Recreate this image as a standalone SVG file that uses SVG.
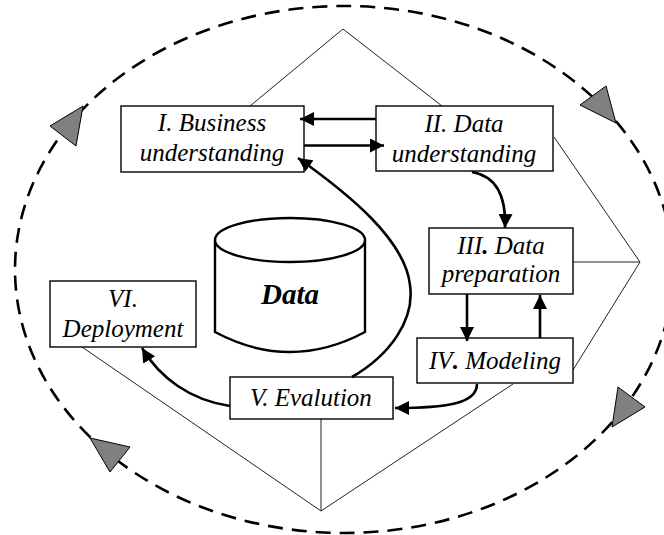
<svg xmlns="http://www.w3.org/2000/svg" width="664" height="535" viewBox="0 0 664 535">
<style>
.box{fill:#fff;stroke:#000;stroke-width:1.4}
.lbl{font-family:"Liberation Serif","Times New Roman",serif;font-style:italic;font-size:25px;fill:#000;text-anchor:middle}
.thin{fill:none;stroke:#222;stroke-width:1}
.arr{fill:none;stroke:#000;stroke-width:2.6;marker-end:url(#ah)}
.tri{fill:#808080;stroke:#000;stroke-width:1}
</style>
<defs>
<marker id="ah" markerUnits="userSpaceOnUse" markerWidth="15" markerHeight="14" refX="14" refY="7" orient="auto">
<path d="M0,0 L14,7 L0,14 z" fill="#000"/>
</marker>
</defs>
<rect width="664" height="535" fill="#fff"/>

<g id="cycle">
<ellipse cx="344" cy="269.5" rx="329" ry="263.5" fill="none" stroke="#000" stroke-width="2.6" stroke-dasharray="15 9"/>
<polygon class="tri" points="83,106 50,126 76,146"/>
<polygon class="tri" points="616,123 580,105 606,86"/>
<polygon class="tri" points="612,427 618,387 645,407"/>
<polygon class="tri" points="90,438 130,447 110,472"/>
</g>

<g id="frame">
<polyline class="thin" points="250,106 343,29 442,106"/>
<polyline class="thin" points="554,137 640,262 573,262"/>
<line class="thin" x1="640" y1="262" x2="573" y2="370"/>
<polyline class="thin" points="513,384 321,511 82,347"/>
<line class="thin" x1="321" y1="419" x2="321" y2="511" stroke="#555"/>
</g>

<g id="data">
<path d="M215,240 L215,332 Q290,372 365,332 L365,240" fill="#fff" stroke="#000" stroke-width="2.4"/>
<ellipse cx="290" cy="240" rx="75" ry="22" fill="#fff" stroke="#000" stroke-width="2.4"/>
<text x="290" y="304" font-family="'Liberation Serif','Times New Roman',serif" font-style="italic" font-weight="bold" font-size="29" text-anchor="middle">Data</text>
</g>

<g id="n1">
<rect class="box" x="121" y="106" width="183" height="66"/>
<text class="lbl" x="212" y="131">I. Business</text>
<text class="lbl" x="212" y="161">understanding</text>
</g>
<g id="n2">
<rect class="box" x="376" y="106" width="177" height="65"/>
<text class="lbl" x="464" y="132">II. Data</text>
<text class="lbl" x="464" y="162">understanding</text>
</g>
<g id="n3">
<rect class="box" x="429" y="228" width="144" height="66"/>
<text class="lbl" x="501" y="254">III<tspan font-weight="bold">.</tspan> Data</text>
<text class="lbl" x="501" y="282">preparation</text>
</g>
<g id="n4">
<rect class="box" x="417" y="338" width="156" height="45"/>
<text class="lbl" x="495" y="369">IV<tspan font-weight="bold">.</tspan> Modeling</text>
</g>
<g id="n5">
<rect class="box" x="230" y="377" width="163" height="42"/>
<text class="lbl" x="311" y="406">V. Evalution</text>
</g>
<g id="n6">
<rect class="box" x="50" y="281" width="146" height="66"/>
<text class="lbl" x="123" y="307">VI.</text>
<text class="lbl" x="123" y="337">Deployment</text>
</g>

<g id="connectors">
<line class="arr" x1="376" y1="119" x2="300" y2="119"/>
<line class="arr" x1="304" y1="145.5" x2="384" y2="145.5"/>
<path class="arr" d="M472,172 Q507,178 505,228"/>
<path class="arr" d="M352,377 C390,355 415,320 410,285 C405,240 350,195 298,158"/>
<line class="arr" x1="467" y1="294" x2="467" y2="341"/>
<line class="arr" x1="540" y1="338" x2="540" y2="295"/>
<path class="arr" d="M477,384 C477,404 445,408 395,408"/>
<path class="arr" d="M230,406 C190,400 160,378 142,348"/>
</g>
</svg>
